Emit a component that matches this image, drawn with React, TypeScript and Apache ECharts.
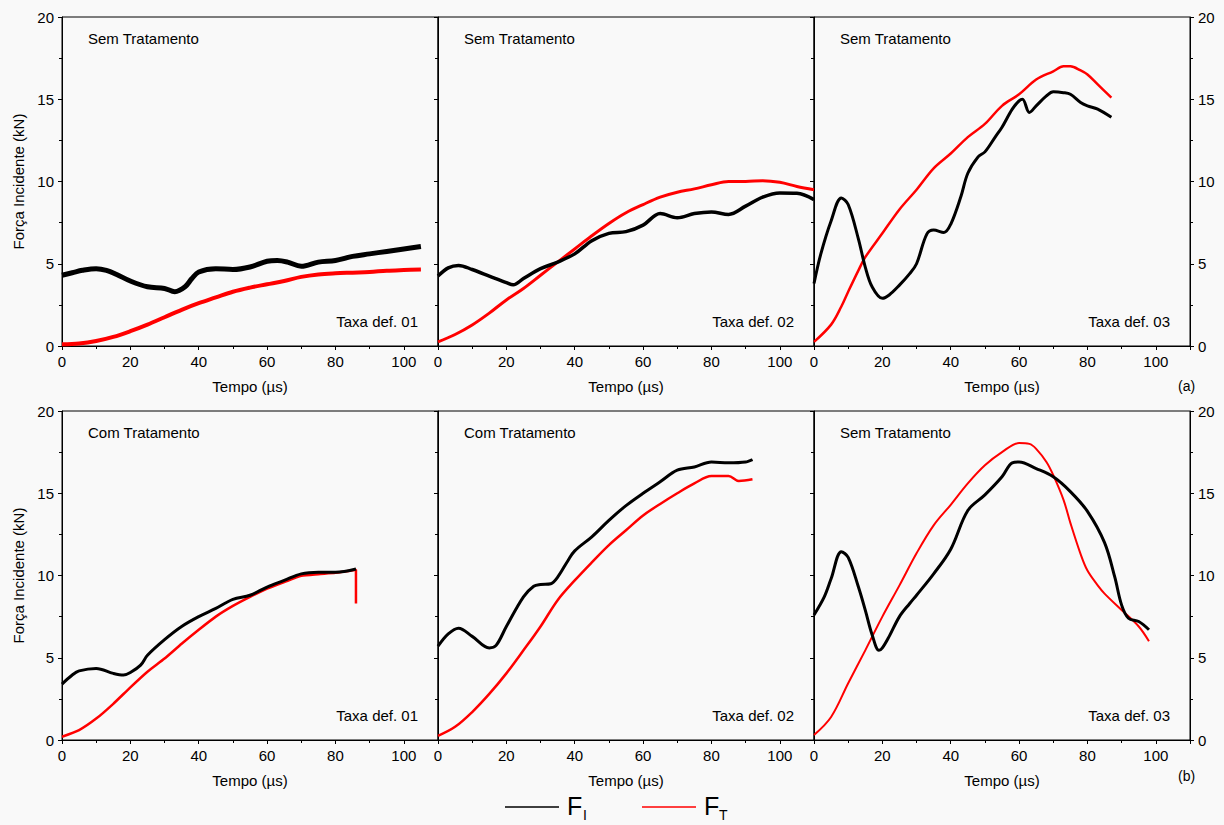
import React, { useEffect, useRef } from "react";
import * as echarts from "echarts";

// ---- data (time in µs, force in kN) ----
const panelTitlesTop = ["Sem Tratamento", "Sem Tratamento", "Sem Tratamento"];
const panelTitlesBottom = ["Com Tratamento", "Com Tratamento", "Sem Tratamento"];
const rateLabels = ["Taxa def. 01", "Taxa def. 02", "Taxa def. 03"];
const xTicks = [0, 20, 40, 60, 80, 100];
const yTicks = [0, 5, 10, 15, 20];

const topFI01 = [[0,4.3],[3,4.45],[6,4.6],[10,4.7],[13,4.6],[16,4.35],[20,3.95],[25,3.6],[30,3.5],[33,3.3],[36,3.6],[38,4.1],[40,4.5],[45,4.7],[50,4.65],[55,4.8],[60,5.15],[63,5.2],[66,5.1],[70,4.85],[75,5.1],[80,5.2],[85,5.45],[90,5.6],[95,5.75],[100,5.9],[105,6.05]];
const topFT01 = [[0,0.1],[5,0.15],[10,0.3],[15,0.55],[20,0.9],[25,1.3],[30,1.75],[35,2.2],[40,2.6],[45,2.95],[50,3.3],[55,3.55],[60,3.75],[65,3.95],[70,4.2],[75,4.35],[80,4.42],[85,4.46],[90,4.5],[95,4.58],[100,4.62],[105,4.65]];

const topFI02 = [[0,4.25],[3,4.75],[6,4.9],[10,4.65],[15,4.25],[20,3.85],[22,3.72],[25,4.1],[30,4.7],[35,5.1],[40,5.6],[45,6.4],[50,6.85],[55,6.95],[60,7.35],[65,8.05],[70,7.8],[75,8.05],[80,8.15],[85,8.0],[90,8.5],[95,9.05],[100,9.3],[105,9.28],[110,8.9]];
const topFT02 = [[0,0.25],[5,0.7],[10,1.28],[15,2.0],[20,2.8],[25,3.5],[30,4.3],[35,5.1],[40,5.9],[45,6.7],[50,7.45],[55,8.1],[60,8.6],[65,9.05],[70,9.35],[75,9.55],[80,9.8],[85,10.0],[90,10.0],[95,10.05],[100,9.95],[105,9.7],[110,9.5]];

const topFI03 = [[0,3.8],[2,5.6],[5,7.6],[8,9.0],[10,8.6],[13,6.5],[15,4.8],[17,3.6],[20,2.9],[22,3.1],[25,3.7],[28,4.4],[30,5.0],[33,6.8],[35,7.05],[38,6.9],[40,7.4],[43,9.1],[45,10.5],[48,11.5],[50,11.8],[53,12.7],[55,13.3],[58,14.4],[60,14.9],[61,15.0],[63,14.2],[65,14.6],[68,15.2],[70,15.45],[73,15.4],[75,15.3],[78,14.8],[80,14.6],[83,14.4],[87,13.9]];
const topFT03 = [[0,0.25],[5,1.3],[8,2.4],[10,3.3],[13,4.6],[15,5.4],[20,6.85],[25,8.3],[30,9.5],[35,10.8],[40,11.7],[45,12.7],[50,13.5],[55,14.6],[60,15.3],[65,16.2],[70,16.7],[73,17.0],[75,17.0],[78,16.75],[80,16.5],[83,15.9],[87,15.1]];

const botFI01 = [[0,3.4],[3,3.95],[5,4.2],[10,4.35],[15,4.05],[18,3.95],[20,4.1],[23,4.55],[25,5.15],[30,6.1],[35,6.9],[40,7.5],[45,8.0],[50,8.55],[55,8.8],[60,9.3],[65,9.7],[70,10.1],[75,10.2],[80,10.2],[86,10.4]];
const botFT01 = [[0,0.2],[5,0.6],[10,1.3],[15,2.2],[20,3.2],[25,4.15],[30,4.95],[35,5.85],[40,6.7],[45,7.5],[50,8.15],[55,8.7],[60,9.2],[65,9.6],[70,9.98],[75,10.08],[80,10.16],[86,10.35],[86,8.3]];

const botFI02 = [[0,5.7],[3,6.45],[6,6.8],[10,6.3],[15,5.6],[17,5.75],[20,6.9],[25,8.7],[28,9.35],[30,9.45],[33,9.5],[35,9.9],[38,10.9],[40,11.5],[45,12.35],[50,13.35],[55,14.25],[60,15.0],[65,15.7],[70,16.4],[75,16.6],[80,16.9],[85,16.85],[90,16.9],[92,17.05]];
const botFT02 = [[0,0.25],[5,0.8],[10,1.7],[15,2.8],[20,4.05],[25,5.45],[30,6.9],[35,8.5],[40,9.7],[45,10.8],[50,11.85],[55,12.75],[60,13.65],[65,14.35],[70,15.0],[75,15.6],[80,16.05],[85,16.05],[88,15.75],[92,15.85]];

const botFI03 = [[0,7.6],[3,8.7],[5,9.8],[8,11.45],[10,11.1],[13,9.3],[15,7.9],[17,6.4],[19,5.45],[20,5.6],[22,6.3],[25,7.5],[28,8.3],[30,8.8],[35,10.1],[40,11.6],[45,13.95],[50,14.9],[55,16.0],[58,16.85],[60,16.9],[65,16.5],[70,16.0],[75,15.1],[80,13.9],[85,12.0],[88,9.9],[90,8.2],[92,7.4],[95,7.2],[98,6.7]];
const botFT03 = [[0,0.3],[5,1.4],[10,3.45],[15,5.45],[20,7.5],[25,9.4],[30,11.35],[35,13.05],[40,14.3],[45,15.6],[50,16.7],[55,17.5],[60,18.05],[63,18.0],[65,17.7],[68,16.9],[70,16.1],[73,14.6],[75,13.2],[78,11.3],[80,10.3],[83,9.4],[85,8.9],[90,7.9],[95,6.9],[98,6.0]];

const FI_DATA = [topFI01, topFI02, topFI03, botFI01, botFI02, botFI03];
const FT_DATA = [topFT01, topFT02, topFT03, botFT01, botFT02, botFT03];
const FI_WIDTH = [5, 3.5, 3, 3, 3, 3];
const FT_WIDTH = [4, 3, 2.5, 2.5, 2.5, 2];

const X_MIN = 0, X_MAX = 110, X_INT = 20;
const Y_MIN = 0, Y_MAX = 20, Y_INT = 5;

const FONT = "Arial, 'Liberation Sans', sans-serif";
const LEFTS = [62, 438, 814];
const PW = 376;
const TOPS = [17, 411];
const PH = 329;

export default function App() {
  const ref = useRef<HTMLDivElement>(null);
  useEffect(() => {
    if (!ref.current) return;
    const chart = echarts.init(ref.current, null, { renderer: "svg" });
    const grids: any[] = [];
    const xAxes: any[] = [];
    const yAxes: any[] = [];
    const series: any[] = [];
    const graphics: any[] = [];
    let yIdx = 0;
    for (let r = 0; r < 2; r++) {
      for (let c = 0; c < 3; c++) {
        const g = r * 3 + c;
        grids.push({
          left: LEFTS[c], top: TOPS[r], width: PW, height: PH,
          show: true, borderColor: "#000", borderWidth: 1, backgroundColor: "transparent",
        });
        xAxes.push({
          type: "value", gridIndex: g, min: X_MIN, max: X_MAX, interval: X_INT,
          name: "Tempo (µs)", nameLocation: "middle", nameGap: 33,
          nameTextStyle: { fontFamily: FONT, fontSize: 15, color: "#000" },
          axisLine: { show: true, onZero: false, lineStyle: { color: "#000", width: 1 } },
          axisTick: { show: true, inside: false, length: 4, lineStyle: { color: "#000" } },
          minorTick: { show: true, splitNumber: 2, length: 3, lineStyle: { color: "#000" } },
          axisLabel: {
            show: true, margin: 8, fontFamily: FONT, fontSize: 15, color: "#000",
            showMaxLabel: false,
            formatter: (v: number) => (xTicks.includes(v) ? String(v) : ""),
          },
          splitLine: { show: false },
        });
        yAxes.push({
          type: "value", gridIndex: g, min: Y_MIN, max: Y_MAX, interval: Y_INT, position: "left",
          name: c === 0 ? "Força Incidente (kN)" : "", nameLocation: "middle", nameGap: 36,
          nameTextStyle: { fontFamily: FONT, fontSize: 15, color: "#000" },
          axisLine: { show: true, onZero: false, lineStyle: { color: "#000", width: 1 } },
          axisTick: { show: true, inside: false, length: 4, lineStyle: { color: "#000" } },
          minorTick: { show: true, splitNumber: 2, length: 3, lineStyle: { color: "#000" } },
          axisLabel: {
            show: c === 0, margin: 8, fontFamily: FONT, fontSize: 15, color: "#000",
            formatter: (v: number) => (yTicks.includes(v) ? String(v) : ""),
          },
          splitLine: { show: false },
        });
        const leftY = yIdx++;
        if (c === 2) {
          yAxes.push({
            type: "value", gridIndex: g, min: Y_MIN, max: Y_MAX, interval: Y_INT, position: "right",
            axisLine: { show: true, onZero: false, lineStyle: { color: "#000", width: 1 } },
            axisTick: { show: true, inside: false, length: 4, lineStyle: { color: "#000" } },
            minorTick: { show: true, splitNumber: 2, length: 3, lineStyle: { color: "#000" } },
            axisLabel: {
              show: true, margin: 8, fontFamily: FONT, fontSize: 15, color: "#000",
              formatter: (v: number) => (yTicks.includes(v) ? String(v) : ""),
            },
            splitLine: { show: false },
          });
          yIdx++;
        }
        series.push({
          name: "FI", type: "line", xAxisIndex: g, yAxisIndex: leftY, data: FI_DATA[g],
          showSymbol: false, symbol: "none", smooth: 0.35, clip: true,
          lineStyle: { color: "#000", width: FI_WIDTH[g] }, z: 3,
        });
        series.push({
          name: "FT", type: "line", xAxisIndex: g, yAxisIndex: leftY, data: FT_DATA[g],
          showSymbol: false, symbol: "none", smooth: g === 3 ? 0.2 : 0.35, clip: true,
          lineStyle: { color: "#ff0000", width: FT_WIDTH[g] }, z: 2,
        });
        const titles = r === 0 ? panelTitlesTop : panelTitlesBottom;
        graphics.push({
          type: "text", left: LEFTS[c] + 26, top: TOPS[r] + 14,
          style: { text: titles[c], fontFamily: FONT, fontSize: 15, fill: "#000" },
        });
        graphics.push({
          type: "text", right: 1224 - (LEFTS[c] + PW - 20), top: TOPS[r] + PH - 32,
          style: { text: rateLabels[c], fontFamily: FONT, fontSize: 15, fill: "#000" },
        });
      }
    }
    graphics.push({ type: "text", left: 1178, top: 379, style: { text: "(a)", fontFamily: FONT, fontSize: 14, fill: "#000" } });
    graphics.push({ type: "text", left: 1178, top: 769, style: { text: "(b)", fontFamily: FONT, fontSize: 14, fill: "#000" } });
    // legend
    graphics.push({ type: "line", shape: { x1: 505, y1: 807, x2: 559, y2: 807 }, style: { stroke: "#000", lineWidth: 1.5 } });
    graphics.push({ type: "text", left: 567, top: 793, style: { text: "F", fontFamily: FONT, fontSize: 25, fill: "#000" } });
    graphics.push({ type: "text", left: 583, top: 808, style: { text: "I", fontFamily: FONT, fontSize: 14, fill: "#000" } });
    graphics.push({ type: "line", shape: { x1: 642, y1: 807, x2: 696, y2: 807 }, style: { stroke: "#ff0000", lineWidth: 1.5 } });
    graphics.push({ type: "text", left: 704, top: 793, style: { text: "F", fontFamily: FONT, fontSize: 25, fill: "#000" } });
    graphics.push({ type: "text", left: 719, top: 808, style: { text: "T", fontFamily: FONT, fontSize: 14, fill: "#000" } });

    chart.setOption({
      animation: false,
      backgroundColor: "#f9f9f9",
      grid: grids,
      xAxis: xAxes,
      yAxis: yAxes,
      series,
      graphic: graphics,
    });
    return () => chart.dispose();
  }, []);
  return <div ref={ref} style={{ position: "fixed", left: 0, top: 0, width: 1224, height: 825 }} />;
}
